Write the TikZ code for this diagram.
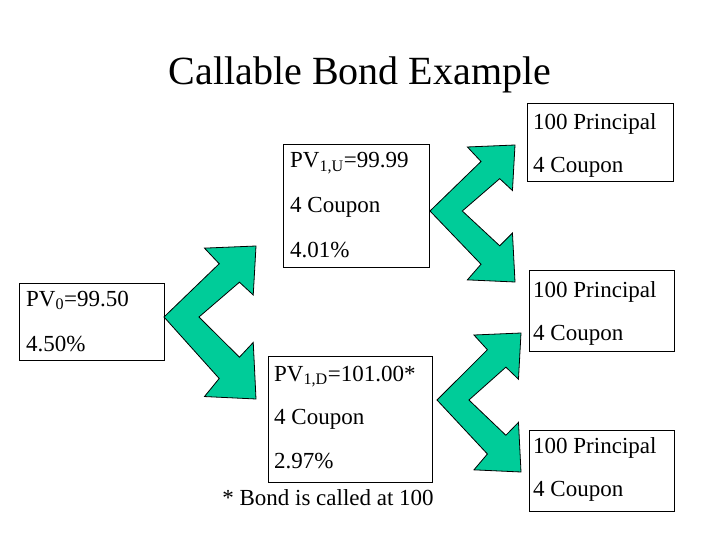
\documentclass[tikz,border=0pt]{standalone}
\usepackage{fontspec}
\setmainfont{Liberation Serif}
\begin{document}
\begin{tikzpicture}[x=1pt,y=-1pt,
  box/.style={draw=black,line width=0.8pt,inner sep=0pt,anchor=north west},
  txt/.style={anchor=base west,inner sep=0pt,font=\fontsize{23}{23}\selectfont},
  arr/.style={fill={rgb,255:red,0;green,204;blue,153},draw=black,line width=0.8pt,line join=miter}]
\useasboundingbox (0,0) rectangle (720,540);
\node[anchor=base,inner sep=0pt,font=\fontsize{40}{40}\selectfont] (title) at (360,85) {Callable Bond Example};
% boxes
\node[box,minimum width=145,minimum height=77] (b0) at (19,283) {};
\node[box,minimum width=146,minimum height=123] (bu) at (283,144) {};
\node[box,minimum width=164,minimum height=126] (bd) at (268,356) {};
\node[box,minimum width=146,minimum height=78] (r1) at (527,103) {};
\node[box,minimum width=145,minimum height=81] (r2) at (529,270) {};
\node[box,minimum width=145,minimum height=81] (r3) at (529,430) {};
% texts
\node[txt] (t01) at (26,306) {PV\textsubscript{0}=99.50};
\node[txt] (t02) at (26,351) {4.50\%};
\node[txt] (tu1) at (290,168) {PV\textsubscript{1,U}=99.99};
\node[txt] (tu2) at (290,213) {4 Coupon};
\node[txt] (tu3) at (290,257) {4.01\%};
\node[txt] (td1) at (274,381) {PV\textsubscript{1,D}=101.00*};
\node[txt] (td2) at (274,424) {4 Coupon};
\node[txt] (td3) at (274,468) {2.97\%};
\node[txt] (r11) at (533,130) {100 Principal};
\node[txt] (r12) at (533,173) {4 Coupon};
\node[txt] (r21) at (533,297) {100 Principal};
\node[txt] (r22) at (533,340) {4 Coupon};
\node[txt] (r31) at (533,453) {100 Principal};
\node[txt] (r32) at (533,496) {4 Coupon};
\node[anchor=base,inner sep=0pt,font=\fontsize{23}{23}\selectfont] (note) at (328,505) {* Bond is called at 100};
% arrows: apex (ax,ay), width w, up height hu, down height hd
\newcommand{\forkarrow}[5]{%
  \draw[arr] (#1,#2)
    -- ++(0.60*#3,-0.75*#4) -- (#1+0.44*#3,#2-0.97*#4) -- (#1+1.0*#3,#2-1.0*#4)
    -- (#1+0.97*#3,#2-0.31*#4) -- (#1+0.82*#3,#2-0.49*#4)
    -- (#1+0.38*#3,#2)
    -- (#1+0.82*#3,#2+0.49*#5) -- (#1+0.97*#3,#2+0.31*#5)
    -- (#1+1.0*#3,#2+1.0*#5) -- (#1+0.44*#3,#2+0.97*#5)
    -- (#1+0.60*#3,#2+0.75*#5) -- cycle;}
\forkarrow{164}{317}{92}{71}{82}
\forkarrow{430}{211}{85}{66}{71}
\forkarrow{437}{400}{84}{67}{72}
\end{tikzpicture}
\end{document}
